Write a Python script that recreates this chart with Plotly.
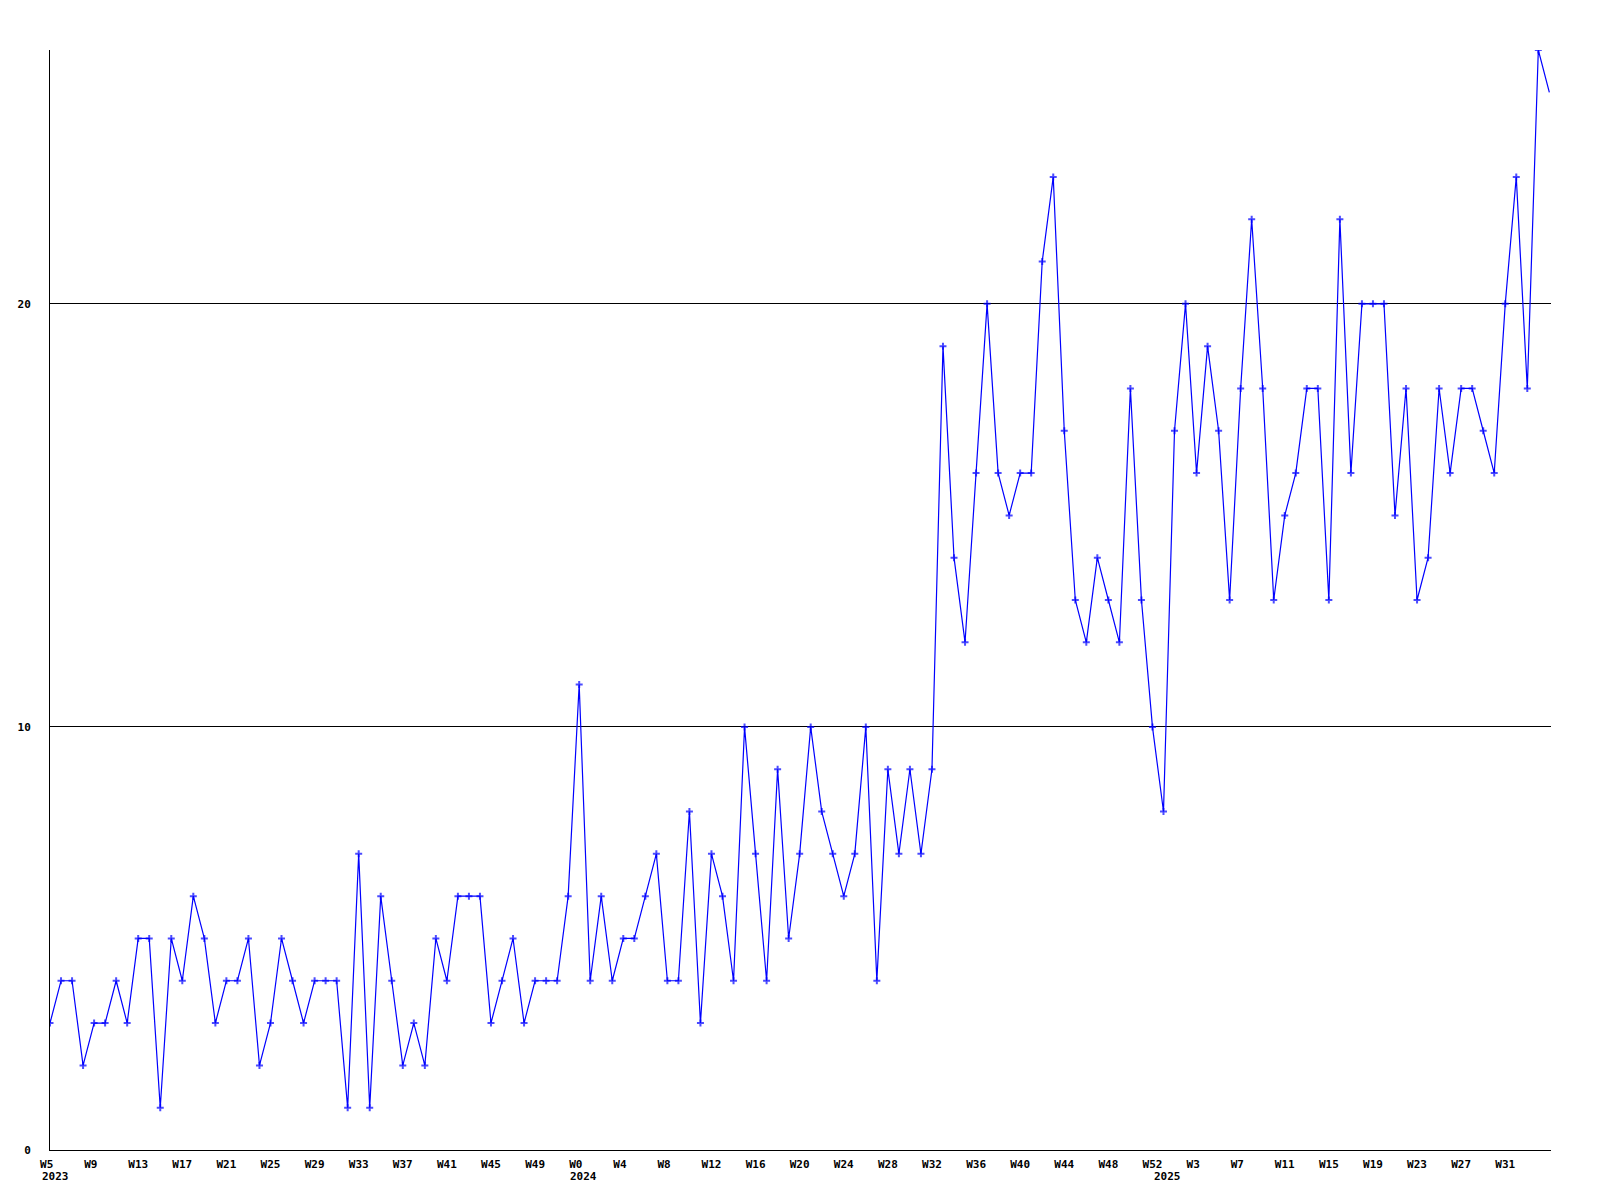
import plotly.graph_objects as go

# Weekly counts, 2023 W5 onward (last value is the partial current week)
values = [3, 4, 4, 2, 3, 3, 4, 3, 5, 5,
          1, 5, 4, 6, 5, 3, 4, 4, 5, 2,
          3, 5, 4, 3, 4, 4, 4, 1, 7, 1,
          6, 4, 2, 3, 2, 5, 4, 6, 6, 6,
          3, 4, 5, 3, 4, 4, 4, 6, 11, 4,
          6, 4, 5, 5, 6, 7, 4, 4, 8, 3,
          7, 6, 4, 10, 7, 4, 9, 5, 7, 10,
          8, 7, 6, 7, 10, 4, 9, 7, 9, 7,
          9, 19, 14, 12, 16, 20, 16, 15, 16, 16,
          21, 23, 17, 13, 12, 14, 13, 12, 18, 13,
          10, 8, 17, 20, 16, 19, 17, 13, 18, 22,
          18, 13, 15, 16, 18, 18, 13, 22, 16, 20,
          20, 20, 15, 18, 13, 14, 18, 16, 18, 18,
          17, 16, 20, 23, 18, 26,
          25]

tick_labels_2023 = ["W5", "W9", "W13", "W17", "W21", "W25", "W29", "W33",
                    "W37", "W41", "W45", "W49"]
tick_labels_2024 = ["W0", "W4", "W8", "W12", "W16", "W20", "W24", "W28",
                    "W32", "W36", "W40", "W44", "W48", "W52"]
tick_labels_2025 = ["W3", "W7", "W11", "W15", "W19", "W23", "W27", "W31"]
year_labels = ["2023", "2024", "2025"]
year_label_weeks = [-0.94, 47.0, 100.0]   # week index where each year label starts

y_ticks = [0, 10, 20]

weeks = list(range(len(values)))
tick_labels = tick_labels_2023 + tick_labels_2024 + tick_labels_2025
tick_vals = [4 * k for k in range(len(tick_labels))]
tick_text = [t if len(t) >= 3 else t + "\u00a0" for t in tick_labels]

x_min, x_max = 0, 136.15
y_min, y_max = 0, 26

marker_sizes = [5] * (len(values) - 1) + [0]

fig = go.Figure()
fig.add_trace(go.Scatter(
    x=weeks, y=values,
    mode="lines+markers",
    line=dict(color="#0000ff", width=1.2),
    marker=dict(symbol="cross-thin", size=marker_sizes,
                color="#0000ff", line=dict(color="#0000ff", width=2)),
    cliponaxis=True,
    showlegend=False,
))

font = dict(family="DejaVu Sans Mono", size=11, color="#000000")

annotations = []
for label, wk in zip(year_labels, year_label_weeks):
    annotations.append(dict(
        text="<b>%s</b>" % label,
        xref="paper", yref="paper",
        x=(wk - x_min) / (x_max - x_min),
        y=-0.0245,
        xanchor="left", yanchor="middle",
        showarrow=False, font=font,
    ))

fig.update_layout(
    width=1600, height=1200,
    margin=dict(l=42, r=57, t=42, b=58, autoexpand=False),
    paper_bgcolor="white", plot_bgcolor="white",
    font=font,
    annotations=annotations,
    xaxis=dict(
        range=[x_min, x_max],
        tickmode="array", tickvals=tick_vals,
        ticktext=["<b>%s</b>" % t for t in tick_text],
        showgrid=False, zeroline=False,
        showline=True, linecolor="#000000", linewidth=1,
        ticks="outside", ticklen=4, tickcolor="rgba(0,0,0,0)",
        tickfont=font,
    ),
    yaxis=dict(
        range=[y_min, y_max],
        tickmode="array", tickvals=y_ticks,
        ticktext=["<b>%d</b>" % v for v in y_ticks],
        showgrid=True, gridcolor="#000000", gridwidth=1,
        zeroline=False,
        showline=True, linecolor="#000000", linewidth=1,
        ticks="outside", ticklen=16, tickcolor="rgba(0,0,0,0)",
        tickfont=font,
    ),
)

fig.write_html("out.html")
